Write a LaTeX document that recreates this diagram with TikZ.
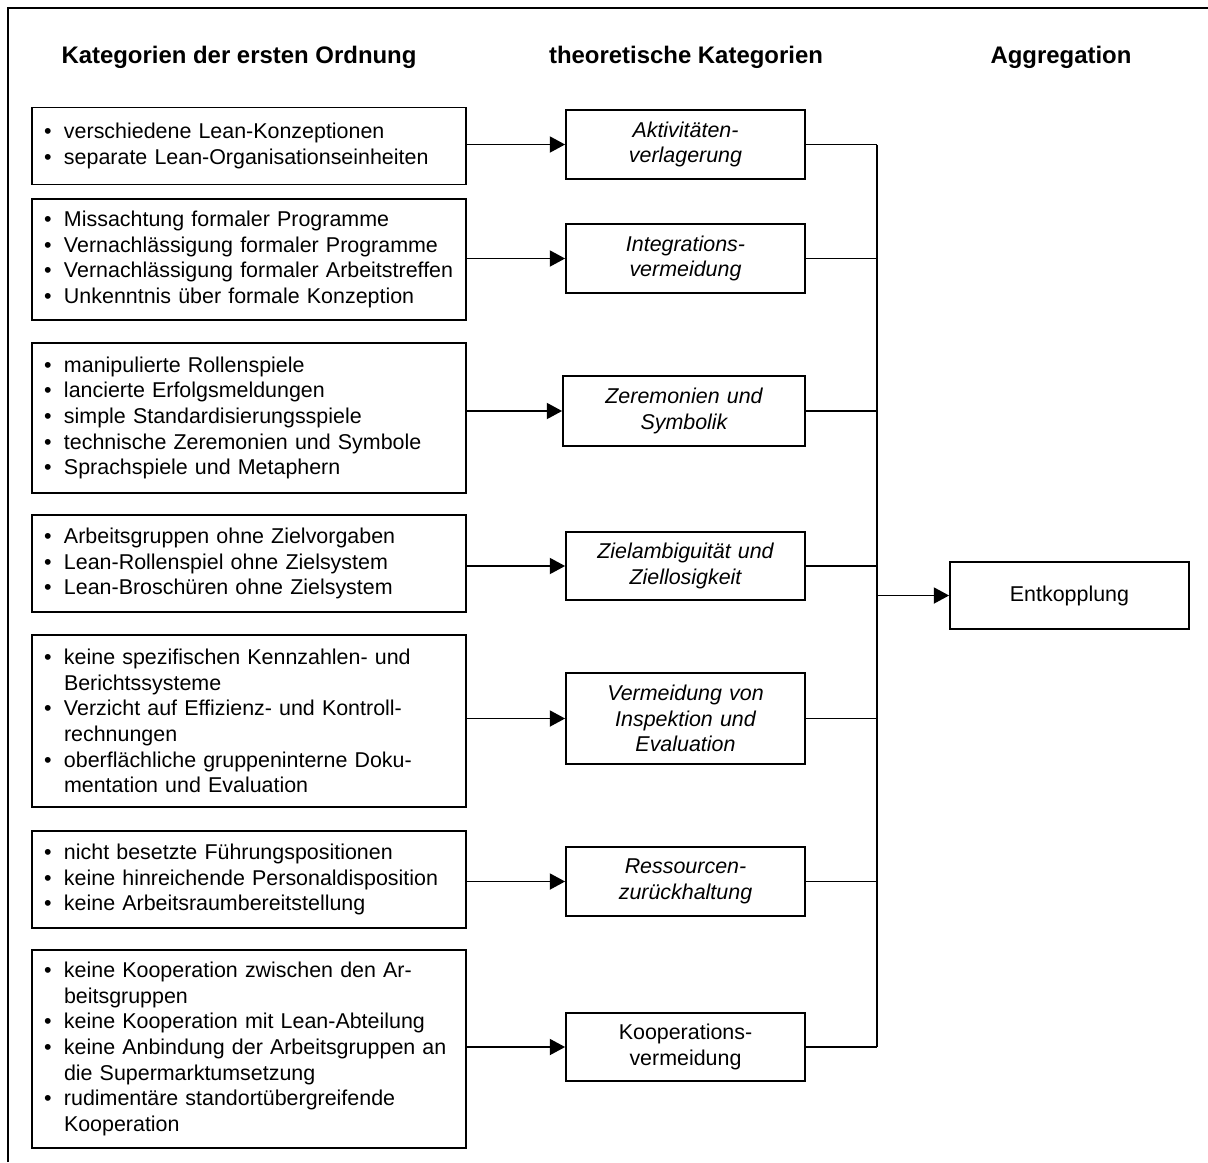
\documentclass[tikz,border=0pt]{standalone}
\usepackage{fontspec}
\setmainfont{Liberation Sans}
\usetikzlibrary{arrows.meta}
\newlength\pxu \setlength\pxu{0.56pt}
\newcommand\bi{\makebox[20\pxu][l]{\textbullet}}
\newcommand\ci{\hspace*{20\pxu}}
\begin{document}
\begin{tikzpicture}[x=0.56pt,y=-0.56pt,
  txt/.style={font=\fontsize{12pt}{14.4pt}\selectfont},
  head/.style={font=\fontsize{13.4pt}{16pt}\selectfont\bfseries},
  lbox/.style={txt, draw, line width=1pt, minimum width=434\pxu, text width=410\pxu,
    inner xsep=12\pxu, inner ysep=0pt, align=left},
  mbox/.style={txt, draw, line width=1pt, minimum width=239\pxu, text width=225\pxu,
    inner xsep=7\pxu, inner ysep=0pt, align=center, font=\fontsize{12pt}{14.4pt}\selectfont\itshape},
  conn/.style={line width=1pt},
  arr/.style={conn, -{Triangle[length=8.6pt,width=9pt]}}]
\useasboundingbox (0,0) rectangle (1208,1162);
% frame
\draw[line width=1.1pt] (8,1162) -- (8,8) -- (1208,8);
% headers
\node[head] (h1) at (239,57) {Kategorien der ersten Ordnung};
\node[head] (h2) at (686,57) {theoretische Kategorien};
\node[head] (h3) at (1061,57) {Aggregation};
% left boxes
\node[lbox, minimum height=77\pxu] (l1) at (249,146) {\bi verschiedene Lean-Konzeptionen\\ \bi separate Lean-Organisationseinheiten};
\node[lbox, minimum height=121\pxu] (l2) at (249,259.5) {\bi Missachtung formaler Programme\\ \bi Vernachlässigung formaler Programme\\ \bi Vernachlässigung formaler Arbeitstreffen\\ \bi Unkenntnis über formale Konzeption};
\node[lbox, minimum height=150\pxu] (l3) at (249,418) {\bi manipulierte Rollenspiele\\ \bi lancierte Erfolgsmeldungen\\ \bi simple Standardisierungsspiele\\ \bi technische Zeremonien und Symbole\\ \bi Sprachspiele und Metaphern};
\node[lbox, minimum height=97\pxu] (l4) at (249,563.5) {\bi Arbeitsgruppen ohne Zielvorgaben\\ \bi Lean-Rollenspiel ohne Zielsystem\\ \bi Lean-Broschüren ohne Zielsystem};
\node[lbox, minimum height=172\pxu] (l5) at (249,721) {\bi keine spezifischen Kennzahlen- und\\ \ci Berichtssysteme\\ \bi Verzicht auf Effizienz- und Kontroll-\\ \ci rechnungen\\ \bi oberflächliche gruppeninterne Doku-\\ \ci mentation und Evaluation};
\node[lbox, minimum height=97\pxu] (l6) at (249,879.5) {\bi nicht besetzte Führungspositionen\\ \bi keine hinreichende Personaldisposition\\ \bi keine Arbeitsraumbereitstellung};
\node[lbox, minimum height=198\pxu] (l7) at (249,1049) {\bi keine Kooperation zwischen den Ar-\\ \ci beitsgruppen\\ \bi keine Kooperation mit Lean-Abteilung\\ \bi keine Anbindung der Arbeitsgruppen an\\ \ci die Supermarktumsetzung\\ \bi rudimentäre standortübergreifende\\ \ci Kooperation};
% middle boxes
\node[mbox, minimum height=69\pxu] (m1) at (685.5,144.5) {Aktivitäten-\\verlagerung};
\node[mbox, minimum height=69\pxu] (m2) at (685.5,258.5) {Integrations-\\vermeidung};
\node[mbox, minimum height=70\pxu, minimum width=242\pxu, text width=228\pxu] (m3) at (684,411) {Zeremonien und\\Symbolik};
\node[mbox, minimum height=68\pxu] (m4) at (685.5,566) {Zielambiguität und\\Ziellosigkeit};
\node[mbox, minimum height=91\pxu] (m5) at (685.5,718.5) {Vermeidung von\\Inspektion und\\Evaluation};
\node[mbox, minimum height=69\pxu] (m6) at (685.5,881.5) {Ressourcen-\\zurückhaltung};
\node[mbox, minimum height=68\pxu, font=\fontsize{12pt}{14.4pt}\selectfont\upshape] (m7) at (685.5,1047) {Kooperations-\\vermeidung};
% aggregation box
\node[mbox, minimum height=67\pxu, font=\fontsize{12pt}{14.4pt}\selectfont\upshape] (ent) at (1069.5,595.5) {Entkopplung};
% arrows left -> middle
\foreach \i in {1,...,7} {
  \draw[arr] (m\i.west -| l\i.east) -- (m\i.west);
}
% bus
\coordinate (bus) at (877,0);
\foreach \i in {1,...,7} {
  \draw[conn] (m\i.east) -- (m\i.east -| bus);
}
\draw[conn] (m1.east -| bus) -- (m7.east -| bus);
\draw[arr] (ent.west -| bus) -- (ent.west);
\end{tikzpicture}
\end{document}
